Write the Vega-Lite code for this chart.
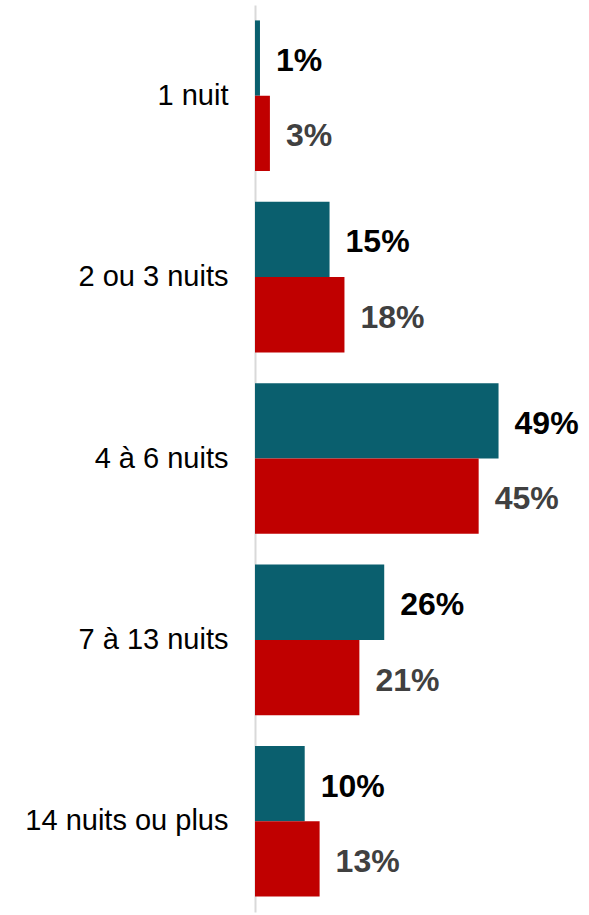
{
  "$schema": "https://vega.github.io/schema/vega-lite/v6.json",
  "width": 334,
  "height": 907,
  "autosize": {"type": "none"},
  "padding": {"left": 255, "top": 5, "right": 0, "bottom": 3},
  "background": "white",
  "config": {"view": {"stroke": null}, "font": "Liberation Sans"},
  "data": {
    "values": [
      {"duree": "1 nuit", "serie": "A", "pct": 1},
      {"duree": "1 nuit", "serie": "B", "pct": 3},
      {"duree": "2 ou 3 nuits", "serie": "A", "pct": 15},
      {"duree": "2 ou 3 nuits", "serie": "B", "pct": 18},
      {"duree": "4 à 6 nuits", "serie": "A", "pct": 49},
      {"duree": "4 à 6 nuits", "serie": "B", "pct": 45},
      {"duree": "7 à 13 nuits", "serie": "A", "pct": 26},
      {"duree": "7 à 13 nuits", "serie": "B", "pct": 21},
      {"duree": "14 nuits ou plus", "serie": "A", "pct": 10},
      {"duree": "14 nuits ou plus", "serie": "B", "pct": 13}
    ]
  },
  "encoding": {
    "y": {
      "field": "duree",
      "type": "nominal",
      "sort": null,
      "scale": {"paddingInner": 0.17, "paddingOuter": 0.085},
      "axis": {
        "title": null,
        "ticks": false,
        "domainColor": "#d9d9d9",
        "domainWidth": 2,
        "labelFontSize": 29,
        "labelFont": "Liberation Sans",
        "labelColor": "#000000",
        "labelPadding": 27,
        "labelLimit": 300
      }
    },
    "yOffset": {"field": "serie", "type": "nominal", "sort": ["A", "B"]},
    "x": {
      "field": "pct",
      "type": "quantitative",
      "scale": {"domain": [0, 67.2], "nice": false},
      "axis": null
    }
  },
  "layer": [
    {
      "mark": {"type": "bar"},
      "encoding": {
        "color": {
          "field": "serie",
          "type": "nominal",
          "scale": {"domain": ["A", "B"], "range": ["#0a5f6e", "#c00000"]},
          "legend": null
        }
      }
    },
    {
      "mark": {"type": "text", "align": "left", "baseline": "middle", "dx": 16, "dy": 3, "fontSize": 32, "fontWeight": "bold", "font": "Liberation Sans", "text": {"expr": "datum.pct + '%'"}},
      "encoding": {
        "color": {
          "field": "serie",
          "type": "nominal",
          "scale": {"domain": ["A", "B"], "range": ["#000000", "#404040"]},
          "legend": null
        }
      }
    }
  ],
  "resolve": {"scale": {"color": "independent"}}
}
